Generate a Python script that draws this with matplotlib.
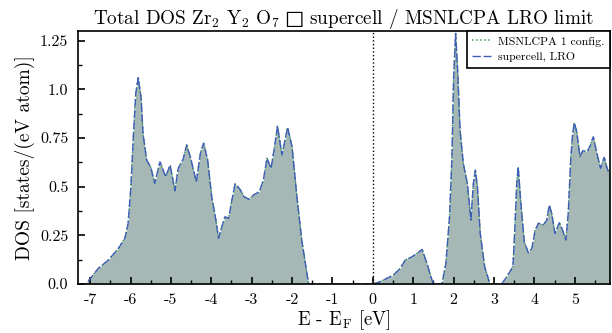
import matplotlib
matplotlib.use("Agg")
import matplotlib.pyplot as plt
from matplotlib.ticker import MultipleLocator, FuncFormatter

plt.rcParams['font.family'] = ['cmr10', 'DejaVu Sans']
plt.rcParams['mathtext.fontset'] = 'cm'
plt.rcParams['axes.unicode_minus'] = False
plt.rcParams['axes.formatter.use_mathtext'] = True

# energy grid (eV, relative to E_F) and total DOS
energy = [-7.30, -7.10, -6.95, -6.80, -6.55, -6.30, -6.14, -6.06, -5.99, -5.93,
          -5.87, -5.81, -5.74, -5.69, -5.60, -5.50, -5.40, -5.27, -5.13, -5.02,
          -4.90, -4.82, -4.70, -4.61, -4.52, -4.37, -4.27, -4.19, -4.09, -3.99,
          -3.90, -3.82, -3.74, -3.66, -3.57, -3.49, -3.41, -3.30, -3.19, -3.06,
          -2.96, -2.81, -2.71, -2.62, -2.52, -2.44, -2.36, -2.25, -2.11, -2.00,
          -1.88, -1.76, -1.59, 0.00, 0.18, 0.51, 0.68, 0.80, 0.97, 1.10,
          1.22, 1.34, 1.44, 1.50, 1.71, 1.81, 1.90, 1.96, 2.00, 2.05,
          2.10, 2.16, 2.24, 2.34, 2.43, 2.49, 2.54, 2.59, 2.66, 2.77,
          2.90, 3.19, 3.32, 3.47, 3.52, 3.56, 3.60, 3.66, 3.75, 3.85,
          3.94, 4.02, 4.10, 4.22, 4.31, 4.37, 4.43, 4.51, 4.62, 4.70,
          4.78, 4.84, 4.90, 4.95, 4.99, 5.05, 5.13, 5.20, 5.31, 5.39,
          5.46, 5.54, 5.64, 5.73, 5.79, 5.87]

dos_supercell = [0.0, 0.0, 0.04, 0.08, 0.123, 0.183, 0.235, 0.31, 0.50, 0.757,
                 0.98, 1.06, 0.96, 0.77, 0.637, 0.60, 0.517, 0.628, 0.551, 0.611,
                 0.48, 0.594, 0.64, 0.714, 0.654, 0.525, 0.671, 0.723, 0.637, 0.449,
                 0.346, 0.235, 0.294, 0.346, 0.337, 0.431, 0.514, 0.49, 0.449, 0.435,
                 0.457, 0.474, 0.534, 0.646, 0.594, 0.697, 0.811, 0.663, 0.805, 0.705,
                 0.449, 0.226, 0.0, 0.0, 0.012, 0.046, 0.08, 0.123, 0.14, 0.158,
                 0.178, 0.106, 0.037, 0.0, 0.0, 0.106, 0.346, 0.654, 1.048, 1.288,
                 1.10, 0.791, 0.62, 0.517, 0.329, 0.517, 0.586, 0.50, 0.26, 0.089,
                 0.0, 0.0, 0.038, 0.089, 0.294, 0.50, 0.602, 0.431, 0.217, 0.161,
                 0.183, 0.277, 0.312, 0.303, 0.329, 0.406, 0.363, 0.26, 0.315, 0.277,
                 0.226, 0.363, 0.637, 0.774, 0.829, 0.782, 0.654, 0.685, 0.68, 0.714,
                 0.757, 0.68, 0.594, 0.651, 0.602, 0.56]

# the 1-config MSNLCPA curve lies on top of the supercell one at this resolution
dos_msnlcpa = list(dos_supercell)

fig = plt.figure(figsize=(6.12, 3.33), dpi=100)
ax = fig.add_axes([0.1275, 0.147, 0.869, 0.760])

ax.fill_between(energy, dos_supercell, 0, color='#a6b8b6', lw=0)
ax.plot(energy, dos_msnlcpa, ls=':', color='#3c9a50', lw=1.1, label='MSNLCPA 1 config.')
ax.plot(energy, dos_supercell, ls=(0, (6, 2)), color='#3f5cb8', lw=1.0, label='supercell, LRO')
ax.axvline(0, color='black', ls=':', lw=1.0)

ax.set_xlim(-7.3, 5.87)
ax.set_ylim(0, 1.3)
ax.xaxis.set_major_locator(MultipleLocator(1))
ax.xaxis.set_minor_locator(MultipleLocator(0.5))
ax.yaxis.set_major_locator(MultipleLocator(0.25))
ax.yaxis.set_minor_locator(MultipleLocator(0.125))


def xfmt(v, pos):
    return '%g' % round(v, 3)


def yfmt(v, pos):
    s = '%g' % round(v, 3)
    if '.' not in s:
        s += '.0'
    return s


ax.xaxis.set_major_formatter(FuncFormatter(xfmt))
ax.yaxis.set_major_formatter(FuncFormatter(yfmt))
ax.tick_params(which='both', direction='in', top=False, right=False, labelsize=11.5)
ax.tick_params(which='major', length=5, width=1.2, pad=7)
ax.tick_params(which='minor', length=3, width=1.0)
for sp in ax.spines.values():
    sp.set_linewidth(1.2)

ax.set_xlabel(r'E - E$_{\rm F}$ [eV]', fontsize=13.5, labelpad=0.5)
ax.set_ylabel('DOS [states/(eV atom)]', fontsize=14, labelpad=4)
ax.set_title('Total DOS Zr$_2$ Y$_2$ O$_7$ $\u25a1$ supercell / MSNLCPA LRO limit',
             fontsize=13.8, pad=5)

leg = ax.legend(loc='upper right', borderaxespad=0, fontsize=8.5, fancybox=False,
                framealpha=1, edgecolor='black', handlelength=1.6,
                handletextpad=0.6, borderpad=0.45, labelspacing=0.45)
leg.get_frame().set_linewidth(1.2)

fig.savefig('out.png', dpi=100)
